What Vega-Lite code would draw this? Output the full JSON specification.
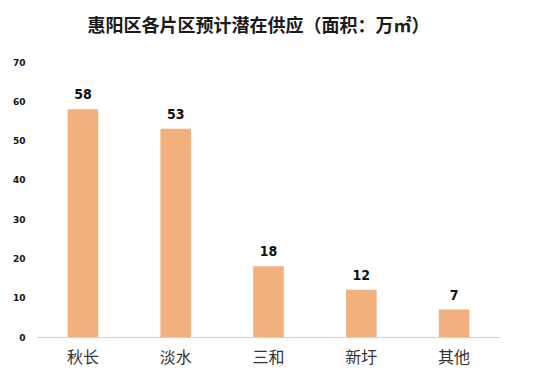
{
  "$schema": "https://vega.github.io/schema/vega-lite/v6.json",
  "autosize": {"type": "none"},
  "width": 463,
  "height": 275,
  "padding": {"left": 37, "top": 62, "right": 44, "bottom": 48},
  "background": "white",
  "config": {"view": {"stroke": null}},
  "title": {
    "text": "惠阳区各片区预计潜在供应（面积：万㎡）",
    "font": "Noto Sans CJK SC",
    "fontSize": 18,
    "fontWeight": "bold",
    "color": "#1a1a1a",
    "anchor": "middle",
    "dx": -10,
    "offset": 22
  },
  "data": {
    "values": [
      {"area": "秋长", "value": 58},
      {"area": "淡水", "value": 53},
      {"area": "三和", "value": 18},
      {"area": "新圩", "value": 12},
      {"area": "其他", "value": 7}
    ]
  },
  "encoding": {
    "x": {
      "field": "area",
      "type": "nominal",
      "sort": null,
      "scale": {"paddingInner": 0.67, "paddingOuter": 0.33},
      "axis": {
        "title": null,
        "labelAngle": 0,
        "ticks": false,
        "domainColor": "#d0d0d0",
        "labelFont": "Noto Sans CJK SC",
        "labelFontSize": 16,
        "labelColor": "#333333",
        "labelPadding": 12
      }
    },
    "y": {
      "field": "value",
      "type": "quantitative",
      "scale": {"domain": [0, 70]},
      "axis": {
        "title": null,
        "values": [0, 10, 20, 30, 40, 50, 60, 70],
        "grid": false,
        "domain": false,
        "ticks": false,
        "labelFont": "DejaVu Sans",
        "labelFontWeight": "bold",
        "labelFontSize": 9,
        "labelColor": "#111111",
        "labelPadding": 12
      }
    }
  },
  "layer": [
    {"mark": {"type": "bar", "color": "#F2B07F"}},
    {
      "mark": {
        "type": "text",
        "baseline": "bottom",
        "dy": -7,
        "font": "DejaVu Sans Condensed",
        "fontWeight": "bold",
        "fontSize": 14,
        "color": "#111111"
      },
      "encoding": {"text": {"field": "value", "type": "quantitative"}}
    }
  ]
}
